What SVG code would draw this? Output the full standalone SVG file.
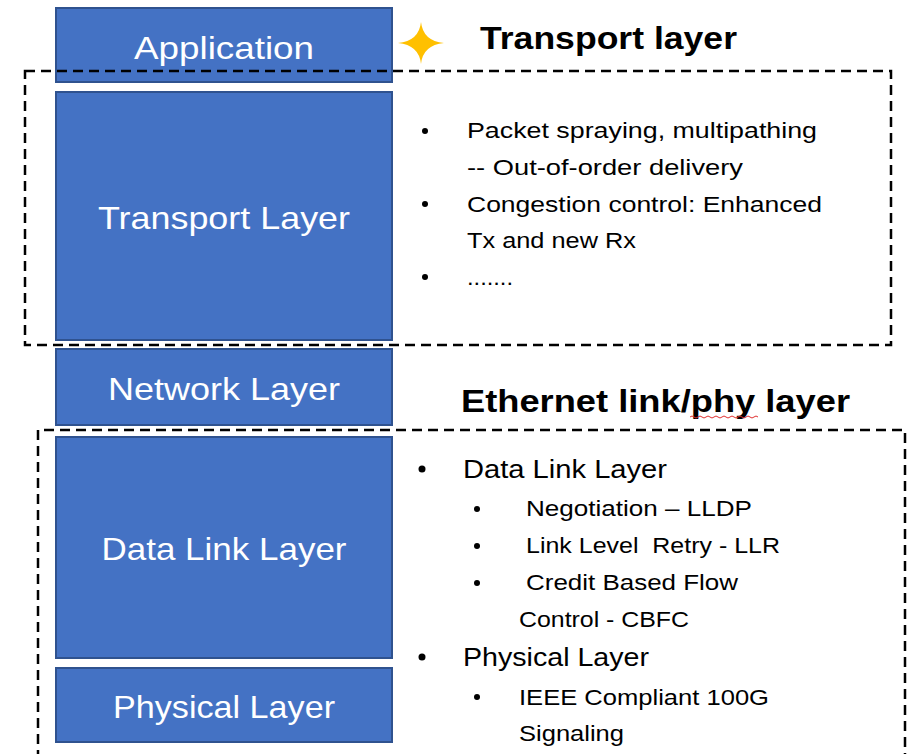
<svg xmlns="http://www.w3.org/2000/svg" width="913" height="754" viewBox="0 0 913 754">
<style>
.box{fill:#4472C4;stroke:#2F528F;stroke-width:2}
.lbl{font-family:"Liberation Sans",Arial,sans-serif;font-size:32px;fill:#FFFFFF;text-anchor:middle}
.dash{fill:none;stroke:#000;stroke-width:2.5;stroke-dasharray:10 6}
.hd{font-family:"Liberation Sans",Arial,sans-serif;font-size:31px;font-weight:bold;fill:#000}
.t{font-family:"Liberation Sans",Arial,sans-serif;font-size:22px;fill:#000}
.t2{font-family:"Liberation Sans",Arial,sans-serif;font-size:25px;fill:#000}
.b{fill:#000}
</style>
<rect width="913" height="754" fill="#FFFFFF"/>
<g id="application"><rect class="box" x="56" y="8" width="336" height="74"/><text class="lbl" x="224" y="59" textLength="180" lengthAdjust="spacingAndGlyphs">Application</text></g>
<g id="transport"><rect class="box" x="56" y="92" width="336" height="248"/><text class="lbl" x="224" y="229" textLength="252" lengthAdjust="spacingAndGlyphs">Transport Layer</text></g>
<g id="network"><rect class="box" x="56" y="349" width="336" height="76"/><text class="lbl" x="224" y="400" textLength="232" lengthAdjust="spacingAndGlyphs">Network Layer</text></g>
<g id="datalink"><rect class="box" x="56" y="437" width="336" height="221"/><text class="lbl" x="224" y="560" textLength="245" lengthAdjust="spacingAndGlyphs">Data Link Layer</text></g>
<g id="physical"><rect class="box" x="56" y="668" width="336" height="74"/><text class="lbl" x="224" y="718" textLength="222" lengthAdjust="spacingAndGlyphs">Physical Layer</text></g>
<g id="star"><path d="M421,22 Q423,41 444,43 Q423,45 421,64 Q419,45 398,43 Q419,41 421,22 Z" fill="#FFC000"/></g>
<g id="connectors">
<rect class="dash" x="25" y="71" width="866" height="274"/>
<path class="dash" d="M38,760 L38,430 L905,430 L905,760"/>
</g>
<g id="transport-notes">
<text class="hd" x="480" y="49" textLength="257" lengthAdjust="spacingAndGlyphs">Transport layer</text>
<circle class="b" cx="425" cy="131" r="3"/>
<text class="t" x="467" y="138" textLength="350" lengthAdjust="spacingAndGlyphs">Packet spraying, multipathing</text>
<text class="t" x="467" y="175" textLength="276" lengthAdjust="spacingAndGlyphs">-- Out-of-order delivery</text>
<circle class="b" cx="425" cy="204" r="3"/>
<text class="t" x="467" y="212" textLength="355" lengthAdjust="spacingAndGlyphs">Congestion control: Enhanced</text>
<text class="t" x="467" y="248" textLength="169" lengthAdjust="spacingAndGlyphs">Tx and new Rx</text>
<circle class="b" cx="425" cy="277" r="3"/>
<text class="t" x="467" y="285" textLength="46" lengthAdjust="spacingAndGlyphs">.......</text>
</g>
<g id="ethernet-notes">
<text class="hd" x="461" y="412" textLength="389" lengthAdjust="spacingAndGlyphs">Ethernet link/phy layer</text>
<path d="M690,417 q2,-2 4,0 t4,0 t4,0 t4,0 t4,0 t4,0 t4,0 t4,0 t4,0 t4,0 t4,0 t4,0 t4,0 t4,0 t4,0 t4,0 t4,0" fill="none" stroke="#E03030" stroke-width="1"/>
<circle class="b" cx="422" cy="469" r="3.5"/>
<text class="t2" x="463" y="478" textLength="204" lengthAdjust="spacingAndGlyphs">Data Link Layer</text>
<circle class="b" cx="477" cy="509" r="3"/>
<text class="t" x="526" y="516" textLength="226" lengthAdjust="spacingAndGlyphs">Negotiation – LLDP</text>
<circle class="b" cx="477" cy="546" r="3"/>
<text class="t" x="526" y="553" textLength="254" lengthAdjust="spacingAndGlyphs" xml:space="preserve">Link Level  Retry - LLR</text>
<circle class="b" cx="477" cy="583" r="3"/>
<text class="t" x="526" y="590" textLength="212" lengthAdjust="spacingAndGlyphs">Credit Based Flow</text>
<text class="t" x="519" y="627" textLength="170" lengthAdjust="spacingAndGlyphs">Control - CBFC</text>
<circle class="b" cx="422" cy="657" r="3.5"/>
<text class="t2" x="463" y="666" textLength="186" lengthAdjust="spacingAndGlyphs">Physical Layer</text>
<circle class="b" cx="477" cy="697" r="3"/>
<text class="t" x="519" y="705" textLength="250" lengthAdjust="spacingAndGlyphs">IEEE Compliant 100G</text>
<text class="t" x="519" y="741" textLength="105" lengthAdjust="spacingAndGlyphs">Signaling</text>
</g>
</svg>
